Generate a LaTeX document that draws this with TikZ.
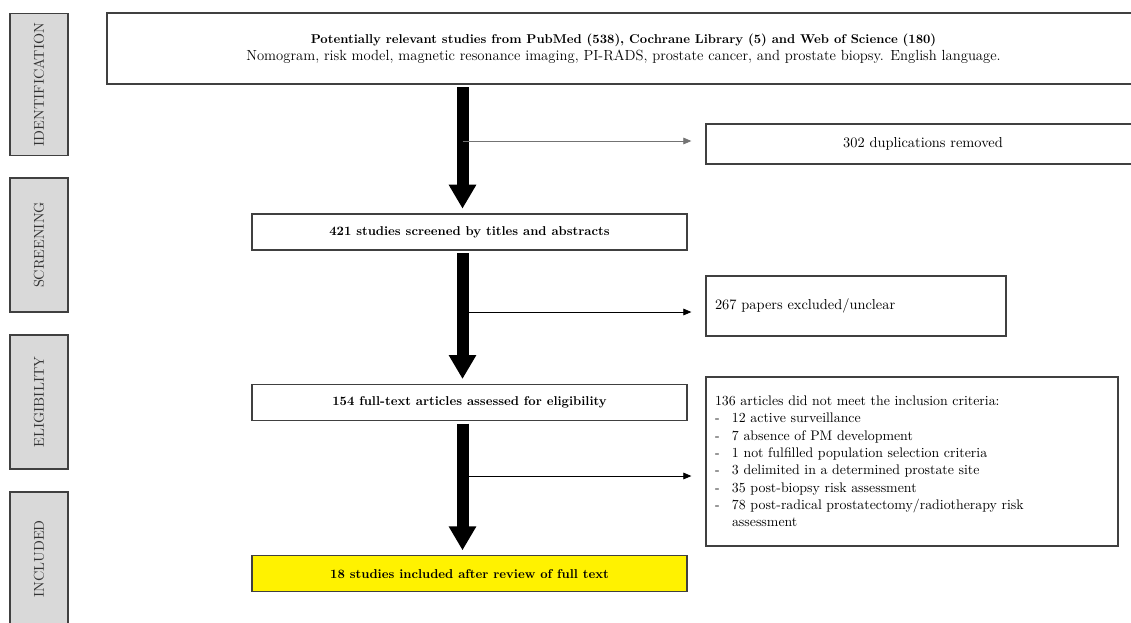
\documentclass[tikz,border=0pt]{standalone}
\usetikzlibrary{positioning,arrows.meta}
\definecolor{stagegray}{HTML}{D9D9D9}
\definecolor{edgegray}{HTML}{404040}
\tikzset{box/.style={draw=edgegray, line width=1pt, align=center, inner sep=0pt, font=\fontsize{10.8}{13}\selectfont},
  mainbox/.style={box, minimum width=326.25pt, minimum height=27pt, font=\fontsize{9.6}{13}\selectfont\bfseries},
  stage/.style={draw=edgegray, line width=1pt, fill=stagegray, rotate=90, minimum width=100.5pt, minimum height=43.5pt, inner sep=0pt, font=\fontsize{10.7}{12}\selectfont, text=black!80},
  bigline/.style={line width=9pt, -{Triangle[width=19.5pt, length=18pt]}, shorten <=2pt, shorten >=3.5pt},
  line/.style={line width=0.6pt, -{Triangle[width=5pt, length=6pt]}, shorten >=10.5pt}}
\newcommand\bul{\makebox[12.75pt][l]{-}}

\begin{document}
\begin{tikzpicture}[x=0.75pt, y=-0.75pt]
    \useasboundingbox (0,0) rectangle (1131,622);
    % stages
    \node[stage, minimum width=106.5pt] (ident) at (39,84.5) {IDENTIFICATION};
    \node[stage] (screen) at (39,245) {SCREENING};
    \node[stage] (elig)   at (39,402) {ELIGIBILITY};
    \node[stage] (incl)   at (39,559) {INCLUDED};

    % main column
    \node[box, minimum width=774.75pt, minimum height=53.25pt] (search) at (623.5,48.5)
        {{\fontsize{9.6}{13}\selectfont\bfseries Potentially relevant studies from PubMed (538), Cochrane Library (5) and Web of Science (180)}\\
         {\fontsize{11}{13}\selectfont Nomogram, risk model, magnetic resonance imaging, PI-RADS, prostate cancer, and prostate biopsy. English language.}};
    \node[mainbox] (screened) at (469.5,232) {421 studies screened by titles and abstracts};
    \node[mainbox, below=99.75pt of screened] (assessed) {154 full-text articles assessed for eligibility};
    \node[mainbox, fill=yellow, below=100.5pt of assessed] (included) {18 studies included after review of full text};

    % side boxes
    \node[box, minimum width=325.5pt, minimum height=30pt] (dup) at (923,144) {302 duplications removed};
    \node[box, align=left, text width=211.5pt, inner xsep=6.75pt, minimum height=45pt] (excl) at (856,306)
        {267 papers excluded/unclear};
    \node[box, align=left, text width=295.5pt, inner xsep=6.75pt, minimum height=126.75pt,
          font=\fontsize{10.4}{13}\selectfont] (crit) at (912,461.5)
        {136 articles did not meet the inclusion criteria:\\
         \bul 12 active surveillance\\
         \bul 7 absence of PM development\\
         \bul 1 not fulfilled population selection criteria\\
         \bul 3 delimited in a determined prostate site\\
         \bul 35 post-biopsy risk assessment\\
         \bul 78 post-radical prostatectomy/radiotherapy risk\\
         \hspace*{12.75pt}assessment};

    % arrows
    \coordinate (spine) at (462.5,0);
    \coordinate (d1) at (462.5,141);
    \coordinate (d2) at (462.5,312);
    \coordinate (d3) at (462.5,476);

    \draw[bigline] (search.south -| spine) -- (screened.north -| spine);
    \draw[bigline] (screened.south -| spine) -- (assessed.north -| spine);
    \draw[bigline] (assessed.south -| spine) -- (included.north -| spine);

    \draw[line, black!55] (d1) -- (d1 -| dup.west);
    \draw[line]           (d2) -- (d2 -| excl.west);
    \draw[line]           (d3) -- (d3 -| crit.west);
\end{tikzpicture}
\end{document}
